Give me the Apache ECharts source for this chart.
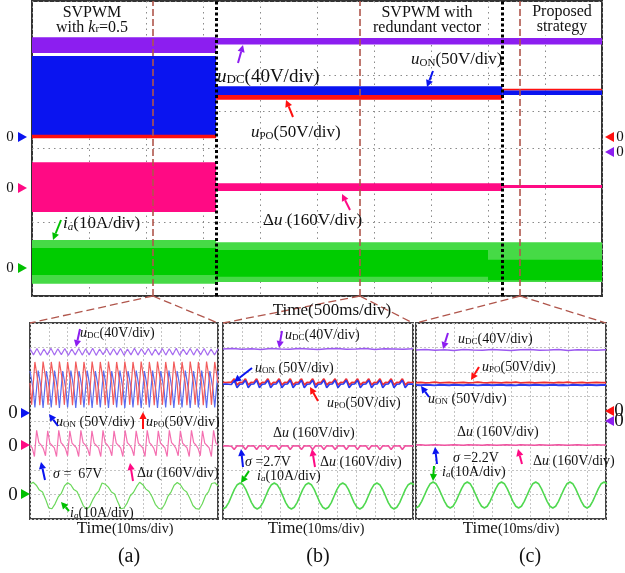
<!DOCTYPE html>
<html><head><meta charset="utf-8">
<script src="https://cdn.jsdelivr.net/npm/echarts@6/dist/echarts.min.js"></script>
<style>html,body{margin:0;padding:0;background:#fff}#c{width:625px;height:573px}</style>
</head><body><div id="c"></div>
<script>
// ---------- DATA (oscilloscope divisions: x 0..10, y 0..8) ----------
// Top panel envelopes: [t0, t1, low, high]
const topDC = [[0, 3.23, 6.59, 7.02], [3.23, 10, 6.82, 7.00]];
const topPO = [[0, 3.23, 4.28, 4.40], [3.23, 8.25, 5.32, 5.48], [8.25, 10, 5.57, 5.62]];
const topON = [[0, 3.23, 4.37, 6.51], [3.23, 8.25, 5.45, 5.69], [8.25, 10, 5.45, 5.57]];
const topDu = [[0, 3.23, 2.28, 3.63], [3.23, 8.25, 2.85, 3.06], [8.25, 10, 2.93, 3.01]];
const topIaOuter = [[0, 3.23, 0.33, 1.52], [3.23, 10, 0.38, 1.46]];
const topIaInner = [[0, 3.23, 0.57, 1.30], [3.23, 8.0, 0.52, 1.25], [8.0, 10, 0.43, 0.98]];
const zoomMarks = [2.12, 5.75, 8.56];
const switchMarks = [3.23, 8.25];

// Panel (a)
const aDC = [6.95,6.70,6.96,6.68,6.94,6.70,6.97,6.69,6.95,6.71,
 6.96,6.68,6.94,6.70,6.96,6.69,6.95,6.70,6.97,6.68,
 6.94,6.71,6.96,6.69,6.95,6.70,6.96,6.68,6.94,6.70,
 6.97,6.69,6.95,6.71,6.96,6.68,6.94,6.70,6.96,6.69,
 6.95,6.70,6.97,6.68,6.94,6.71,6.96,6.69,6.95,6.70,
 6.96,6.68,6.94,6.70,6.95];
const aON = [
 6.04,6.01,5.27,4.55,4.58, 6.06,6.02,5.25,4.53,4.57,
 6.04,6.01,5.27,4.55,4.58, 6.06,6.02,5.25,4.53,4.57,
 6.04,6.01,5.27,4.55,4.58, 6.06,6.02,5.25,4.53,4.57,
 6.04,6.01,5.27,4.55,4.58, 6.06,6.02,5.25,4.53,4.57,
 6.04,6.01,5.27,4.55,4.58, 6.06,6.02,5.25,4.53,4.57,
 6.04,6.01,5.27,4.55,4.58, 6.06,6.02,5.25,4.53,4.57,
 6.04,6.01,5.27,4.55,4.58, 6.06,6.02,5.25,4.53,4.57,
 6.04,6.01,5.27,4.55,4.58, 6.06,6.02,5.25,4.53,4.57,
 6.04,6.01,5.27,4.55,4.58, 6.06,6.02,5.25,4.53,4.57,
 6.04,6.01,5.27,4.55,4.58, 6.06,6.02,5.25,4.53,4.57,
 6.04,6.01,5.27,4.55,4.58, 6.06,6.02,5.25,4.53,4.57,
 6.04,6.01,5.27,4.55,4.58, 6.04];
const aPO = [
 5.55,4.66,4.63,6.41,6.38, 5.53,4.64,4.67,6.43,6.39,
 5.55,4.66,4.63,6.41,6.38, 5.53,4.64,4.67,6.43,6.39,
 5.55,4.66,4.63,6.41,6.38, 5.53,4.64,4.67,6.43,6.39,
 5.55,4.66,4.63,6.41,6.38, 5.53,4.64,4.67,6.43,6.39,
 5.55,4.66,4.63,6.41,6.38, 5.53,4.64,4.67,6.43,6.39,
 5.55,4.66,4.63,6.41,6.38, 5.53,4.64,4.67,6.43,6.39,
 5.55,4.66,4.63,6.41,6.38, 5.53,4.64,4.67,6.43,6.39,
 5.55,4.66,4.63,6.41,6.38, 5.53,4.64,4.67,6.43,6.39,
 5.55,4.66,4.63,6.41,6.38, 5.53,4.64,4.67,6.43,6.39,
 5.55,4.66,4.63,6.41,6.38, 5.53,4.64,4.67,6.43,6.39,
 5.55,4.66,4.63,6.41,6.38, 5.53,4.64,4.67,6.43,6.39,
 5.55,4.66,4.63,6.41,6.38, 5.55];
const aDu = [
 3.00,2.90,2.55,3.62,3.12, 3.02,2.88,2.58,3.60,3.10,
 3.00,2.90,2.55,3.62,3.12, 3.02,2.88,2.58,3.60,3.10,
 3.00,2.90,2.55,3.62,3.12, 3.02,2.88,2.58,3.60,3.10,
 3.00,2.90,2.55,3.62,3.12, 3.02,2.88,2.58,3.60,3.10,
 3.00,2.90,2.55,3.62,3.12, 3.02,2.88,2.58,3.60,3.10,
 3.00,2.90,2.55,3.62,3.12, 3.02,2.88,2.58,3.60,3.10,
 3.00,2.90,2.55,3.62,3.12, 3.02,2.88,2.58,3.60,3.10,
 3.00,2.90,2.55,3.62,3.12, 3.02,2.88,2.58,3.60,3.10,
 3.00,2.90,2.55,3.62,3.12, 3.00];
const aIa = [1.42,1.50,1.38,1.18,1.10,0.80,0.45,0.42,0.62,0.90,
 1.05,1.35,1.48,1.40,1.20,1.12,0.85,0.55,0.40,0.50,
 0.78,1.00,1.15,1.47,1.42,1.30,1.10,1.02,0.70,0.42,
 0.45,0.65,0.95,1.08,1.32,1.50,1.40,1.22,1.12,0.90,
 0.60,0.44,0.40,0.60,0.92,1.10,1.38,1.49,1.40,1.20,
 1.10,0.85,0.55,0.42,0.40,0.62,0.95,1.12,1.45,1.48,1.35];

// Panel (b)
const bDC = [6.94,6.96,6.93,6.95,6.92,6.96,6.94,6.93,6.96,6.94,6.92,6.95,6.96,6.93,6.94,6.96,6.92,6.95,6.94,6.93,6.95];
const bPO = [5.58,5.57,5.58,5.59,
 5.72,5.47,5.58,5.57, 5.72,5.47,5.58,5.57, 5.72,5.47,5.58,5.57, 5.72,5.47,5.58,5.57,
 5.72,5.47,5.58,5.57, 5.72,5.47,5.58,5.57, 5.72,5.47,5.58,5.57, 5.72,5.47,5.58,5.57,
 5.72,5.47,5.58,5.57, 5.72,5.47,5.58,5.57, 5.72,5.47,5.58,5.57, 5.72,5.47,5.58,5.57,
 5.72,5.47,5.58,5.57, 5.72,5.47,5.58,5.57, 5.72,5.47,5.58,5.57, 5.72,5.47,5.58,5.57, 5.58];
const bON = [5.50,5.51,5.50,5.49,
 5.66,5.36,5.50,5.51, 5.66,5.36,5.50,5.51, 5.66,5.36,5.50,5.51, 5.66,5.36,5.50,5.51,
 5.66,5.36,5.50,5.51, 5.66,5.36,5.50,5.51, 5.66,5.36,5.50,5.51, 5.66,5.36,5.50,5.51,
 5.66,5.36,5.50,5.51, 5.66,5.36,5.50,5.51, 5.66,5.36,5.50,5.51, 5.66,5.36,5.50,5.51,
 5.66,5.36,5.50,5.51, 5.66,5.36,5.50,5.51, 5.66,5.36,5.50,5.51, 5.66,5.36,5.50,5.51, 5.50];
const bDu = [2.98,2.99,2.98,2.97,
 2.84,2.99,2.98,2.99, 2.84,2.99,2.98,2.99, 2.84,2.99,2.98,2.99, 2.84,2.99,2.98,2.99,
 2.84,2.99,2.98,2.99, 2.84,2.99,2.98,2.99, 2.84,2.99,2.98,2.99, 2.84,2.99,2.98,2.99,
 2.84,2.99,2.98,2.99, 2.84,2.99,2.98,2.99, 2.84,2.99,2.98,2.99, 2.84,2.99,2.98,2.99,
 2.84,2.99,2.98,2.99, 2.84,2.99,2.98,2.99, 2.84,2.99,2.98,2.99, 2.84,2.99,2.98,2.99, 2.98];
const bIa = [0.41,0.48,0.67,0.94,1.21,1.40,1.47,1.40,1.21,0.94,0.67,0.48,
 0.41,0.48,0.67,0.94,1.21,1.40,1.47,1.40,1.21,0.94,0.67,0.48,
 0.41,0.48,0.67,0.94,1.21,1.40,1.47,1.40,1.21,0.94,0.67,0.48,
 0.41,0.48,0.67,0.94,1.21,1.40,1.47,1.40,1.21,0.94,0.67,0.48,
 0.41,0.48,0.67,0.94,1.21,1.40,1.47,1.40,1.21,0.94,0.67,0.48,
 0.41,0.48,0.67,0.94,1.21,1.40,1.47,1.40];

// Panel (c)
const cDC = [6.90,6.92,6.89,6.91,6.88,6.92,6.90,6.89,6.92,6.90,6.88,6.91,6.92,6.89,6.90,6.92,6.88,6.91,6.90,6.89,6.91];
const cPO = [5.57,5.58,5.56,5.57,5.59,5.56,5.57,5.58,5.56,5.57,5.58,5.56,5.57,5.59,5.57,5.56,5.58,5.57,5.56,5.58,
 5.57,5.59,5.56,5.57,5.58,5.56,5.57,5.58,5.57,5.56,5.58,5.57,5.59,5.56,5.57,5.58,5.56,5.57,5.58,5.57,5.57];
const cON = [5.47,5.46,5.48,5.47,5.45,5.48,5.47,5.46,5.48,5.47,5.46,5.48,5.47,5.45,5.47,5.48,5.46,5.47,5.48,5.46,
 5.47,5.45,5.48,5.47,5.46,5.48,5.47,5.46,5.47,5.48,5.46,5.47,5.45,5.48,5.47,5.46,5.48,5.47,5.46,5.47,5.47];
const cDu = [3.02,3.03,3.01,3.02,3.03,3.02,3.01,3.02,3.03,3.02,3.01,3.03,3.02,3.02,3.01,3.03,3.02,3.01,3.02,3.03,
 3.02,3.01,3.03,3.02,3.02,3.01,3.03,3.02,3.01,3.02,3.03,3.02,3.01,3.02,3.03,3.02,3.01,3.02,3.03,3.02,3.02];
const cIa = [0.45,0.52,0.72,0.98,1.24,1.44,1.51,1.44,1.24,0.98,0.72,0.52,
 0.45,0.52,0.72,0.98,1.24,1.44,1.51,1.44,1.24,0.98,0.72,0.52,
 0.45,0.52,0.72,0.98,1.24,1.44,1.51,1.44,1.24,0.98,0.72,0.52,
 0.45,0.52,0.72,0.98,1.24,1.44,1.51,1.44,1.24,0.98,0.72,0.52,
 0.45,0.52,0.72,0.98,1.24,1.44,1.51,1.44,1.24,0.98,0.72,0.52,
 0.45,0.52,0.72,0.98,1.24,1.44,1.51,1.44];

// ---------- CHART ----------
const FONT = "'Liberation Serif','Times New Roman',serif";
const chart = echarts.init(document.getElementById('c'), null, {renderer: 'canvas'});

function axes(i, gridColor, dash) {
  const common = {gridIndex: i, type: 'value', axisLine: {show: false}, axisTick: {show: false},
    axisLabel: {show: false}, splitLine: {show: true, lineStyle: {color: gridColor, type: dash, width: 1}}};
  return [Object.assign({min: 0, max: 10, interval: 1}, common), Object.assign({min: 0, max: 8, interval: 1}, common)];
}
const ax = [axes(0, '#8a8a8a', [1.5, 4]), axes(1, '#c4c4c4', [2, 2]), axes(2, '#c4c4c4', [2, 2]), axes(3, '#c4c4c4', [2, 2])];

function band(data, color, z) {
  return {type: 'custom', xAxisIndex: 0, yAxisIndex: 0, data: data, z: z, silent: true, animation: false,
    encode: {x: [0, 1], y: [2, 3]},
    renderItem: function (params, api) {
      const a = api.coord([api.value(0), api.value(3)]);
      const b = api.coord([api.value(1), api.value(2)]);
      return {type: 'rect', shape: {x: a[0], y: a[1], width: b[0] - a[0], height: b[1] - a[1]}, style: {fill: color}};
    }};
}
function trace(values, step, g, color, w) {
  return {type: 'line', xAxisIndex: g, yAxisIndex: g, data: values.map(function (v, i) { return [+(i * step).toFixed(4), v]; }),
    showSymbol: false, symbol: 'none', lineStyle: {color: color, width: w}, animation: false, silent: true, z: 3};
}

const series = [
  band(topDC, '#8c1ef0', 2),
  band(topPO, '#ff1010', 2),
  band(topON, '#0a14f0', 3),
  band(topDu, '#ff0a84', 2),
  band(topIaOuter, '#46da46', 2),
  band(topIaInner, '#00cc00', 3),
  {type: 'line', xAxisIndex: 0, yAxisIndex: 0, data: [], z: 10, silent: true, animation: false,
    markLine: {silent: true, symbol: 'none', label: {show: false}, animation: false,
      data: zoomMarks.map(function (x) { return {xAxis: x, lineStyle: {color: '#b0564c', type: [7, 3], width: 1.6}}; })
        .concat(switchMarks.map(function (x) { return {xAxis: x, lineStyle: {color: '#000', type: [3, 2.5], width: 3}}; }))}},
  trace(aDC, 10 / (aDC.length - 1), 1, '#a66cf0', 1.2),
  trace(aON, 10 / (aON.length - 1), 1, '#5a6cf0', 1.2),
  trace(aPO, 10 / (aPO.length - 1), 1, '#f25c5c', 1.2),
  trace(aDu, 10 / (aDu.length - 1), 1, '#f46fb0', 1.2),
  trace(aIa, 1 / 6, 1, '#6ad85a', 1.2),
  trace(bDC, 0.5, 2, '#9b59f0', 1.6),
  trace(bPO, 0.1475, 2, '#f03030', 1.8),
  trace(bON, 0.1475, 2, '#2a3cf0', 1.6),
  trace(bDu, 0.1475, 2, '#f0509f', 1.6),
  trace(bIa, 0.15, 2, '#50d850', 1.6),
  trace(cDC, 0.5, 3, '#9b59f0', 1.6),
  trace(cPO, 0.25, 3, '#f03030', 1.8),
  trace(cON, 0.25, 3, '#2a3cf0', 1.8),
  trace(cDu, 0.25, 3, '#f0509f', 1.6),
  trace(cIa, 0.15, 3, '#50d850', 1.6)
];

chart.setOption({
  animation: false,
  backgroundColor: '#fff',
  grid: [
    {left: 32, top: 1, width: 570, height: 295, show: true, borderColor: '#333', borderWidth: 2, backgroundColor: '#fff'},
    {left: 30, top: 323, width: 188, height: 196, show: true, borderColor: '#444', borderWidth: 2, backgroundColor: '#fff'},
    {left: 223, top: 323, width: 190, height: 196, show: true, borderColor: '#444', borderWidth: 2, backgroundColor: '#fff'},
    {left: 416, top: 323, width: 190, height: 196, show: true, borderColor: '#444', borderWidth: 2, backgroundColor: '#fff'}
  ],
  xAxis: ax.map(function (a) { return a[0]; }),
  yAxis: ax.map(function (a) { return a[1]; }),
  series: series
});

// ---------- ANNOTATIONS ----------
function rich(S) {
  const s = Math.round(S * 0.66);
  return {
    n: {fontSize: S, fontFamily: FONT},
    i: {fontSize: S, fontFamily: FONT, fontStyle: 'italic'},
    s: {fontSize: s, fontFamily: FONT, verticalAlign: 'bottom', lineHeight: s},
    si: {fontSize: s, fontFamily: FONT, fontStyle: 'italic', verticalAlign: 'bottom', lineHeight: s},
    t: {fontSize: S, fontFamily: FONT},
    m: {fontSize: Math.round(S * 0.8), fontFamily: FONT}
  };
}
function txt(x, y, text, S, align, extra) {
  const st = {text: text, rich: rich(S), font: S + 'px ' + FONT, fill: '#111',
    textAlign: align || 'left', align: align || 'left', textVerticalAlign: 'middle', verticalAlign: 'middle'};
  if (extra) Object.assign(st, extra);
  return {type: 'text', x: x, y: y, z: 100, style: st};
}
function arrow(x1, y1, x2, y2, color) {
  const dx = x2 - x1, dy = y2 - y1, L = Math.hypot(dx, dy), ux = dx / L, uy = dy / L;
  const hl = 7, hw = 3.6, bx = x2 - ux * hl, by = y2 - uy * hl;
  return [
    {type: 'line', z: 101, shape: {x1: x1, y1: y1, x2: bx, y2: by}, style: {stroke: color, lineWidth: 2}},
    {type: 'polygon', z: 101, shape: {points: [[x2, y2], [bx - uy * hw, by + ux * hw], [bx + uy * hw, by - ux * hw]]}, style: {fill: color}}
  ];
}
function tri(x, y, dir, color) {
  const pts = dir > 0 ? [[x, y - 5], [x + 9, y], [x, y + 5]] : [[x, y - 5], [x - 9, y], [x, y + 5]];
  return {type: 'polygon', z: 101, shape: {points: pts}, style: {fill: color}};
}

const P = '#8c1ef0', B = '#0a14f0', R = '#ff1010', K = '#ff0a84', G = '#00c000';
let g = [];
// top panel titles
g.push(txt(92, 20, '{n|SVPWM}\n{n|with }{i|k}{s|r}{n|=0.5}', 16, 'center', {backgroundColor: '#fff', padding: [1, 3], lineHeight: 15}));
g.push(txt(427, 20, '{n|SVPWM with}\n{n|redundant vector}', 16, 'center', {backgroundColor: '#fff', padding: [1, 3], lineHeight: 15}));
g.push(txt(562, 19, '{n|Proposed}\n{n|strategy}', 16, 'center', {backgroundColor: '#fff', padding: [1, 3], lineHeight: 15}));
// top panel labels
g.push(txt(217, 77, '{i|u}{s|DC}{n|(40V/div)}', 19));
g = g.concat(arrow(238, 63, 243, 45, P));
g.push(txt(251, 133, '{i|u}{s|PO}{n|(50V/div)}', 17));
g = g.concat(arrow(293, 117, 286, 100, R));
g.push(txt(411, 60, '{i|u}{s|ON}{n|(50V/div)}', 17));
g = g.concat(arrow(433, 71, 427, 87, B));
g.push(txt(263, 221, '{n|Δ}{i|u}{n| (160V/div)}', 17));
g = g.concat(arrow(350, 210, 342, 194, K));
g.push(txt(63, 224, '{i|i}{si|a}{n|(10A/div)}', 17));
g = g.concat(arrow(61, 220, 53, 240, G));
g.push(txt(332, 311, '{n|Time(500ms/div)}', 17, 'center'));
// top zero markers
g.push(txt(10, 137, '{n|0}', 15, 'center')); g.push(tri(18, 137, 1, B));
g.push(txt(10, 188, '{n|0}', 15, 'center')); g.push(tri(18, 188, 1, K));
g.push(txt(10, 268, '{n|0}', 15, 'center')); g.push(tri(18, 268, 1, G));
g.push(tri(614, 137, -1, R)); g.push(txt(620, 137, '{n|0}', 15, 'center'));
g.push(tri(614, 152, -1, P)); g.push(txt(620, 152, '{n|0}', 15, 'center'));

// panel (a)
g.push(txt(80, 333, '{i|u}{s|DC}{n|(40V/div)}', 14));
g = g.concat(arrow(80, 329, 76, 347, P));
g.push(txt(56, 422, '{i|u}{s|ON}{n| (50V/div)}', 14));
g = g.concat(arrow(58, 426, 49, 414, B));
g.push(txt(146, 422, '{i|u}{s|PO}{n|(50V/div)}', 14));
g = g.concat(arrow(143, 429, 143, 412, R));
g.push(txt(53, 474, '{i|σ}{n| =  67V}', 14));
g = g.concat(arrow(45, 480, 41, 462, B));
g.push(txt(137, 473, '{n|Δ}{i|u}{n| (160V/div)}', 14));
g = g.concat(arrow(133, 481, 130, 463, K));
g.push(txt(70, 513, '{i|i}{si|a}{n|(10A/div)}', 14));
g = g.concat(arrow(69, 511, 61, 502, G));
g.push(txt(13, 413, '{n|0}', 19, 'center')); g.push(tri(21, 413, 1, B));
g.push(txt(13, 446, '{n|0}', 19, 'center')); g.push(tri(21, 445, 1, K));
g.push(txt(13, 495, '{n|0}', 19, 'center')); g.push(tri(21, 494, 1, G));

// panel (b)
g.push(txt(285, 335, '{i|u}{s|DC}{n|(40V/div)}', 14));
g = g.concat(arrow(282, 331, 279, 348, P));
g.push(txt(255, 368, '{i|u}{s|ON}{n| (50V/div)}', 14));
g = g.concat(arrow(252, 368, 234, 382, B));
g.push(txt(327, 403, '{i|u}{s|PO}{n|(50V/div)}', 14));
g = g.concat(arrow(318, 401, 310, 387, R));
g.push(txt(273, 433, '{n|Δ}{i|u}{n| (160V/div)}', 14));
g.push(txt(245, 462, '{i|σ}{n| =2.7V}', 14));
g = g.concat(arrow(243, 467, 241, 449, B));
g.push(txt(320, 462, '{n|Δ}{i|u}{n| (160V/div)}', 14));
g = g.concat(arrow(315, 467, 312, 449, K));
g.push(txt(257, 476, '{i|i}{si|a}{n|(10A/div)}', 14));
g = g.concat(arrow(249, 471, 241, 483, G));

// panel (c)
g.push(txt(458, 339, '{i|u}{s|DC}{n|(40V/div)}', 14));
g = g.concat(arrow(448, 333, 443, 349, P));
g.push(txt(482, 367, '{i|u}{s|PO}{n|(50V/div)}', 14));
g = g.concat(arrow(479, 367, 471, 380, R));
g.push(txt(428, 399, '{i|u}{s|ON}{n| (50V/div)}', 14));
g = g.concat(arrow(429, 397, 421, 386, B));
g.push(txt(457, 432, '{n|Δ}{i|u}{n| (160V/div)}', 14));
g.push(txt(453, 458, '{i|σ}{n| =2.2V}', 14));
g = g.concat(arrow(437, 464, 435, 447, B));
g.push(txt(533, 461, '{n|Δ}{i|u}{n| (160V/div)}', 14));
g = g.concat(arrow(522, 464, 518, 449, K));
g.push(txt(442, 472, '{i|i}{si|a}{n|(10A/div)}', 14));
g = g.concat(arrow(434, 466, 433, 481, G));
g.push(tri(614, 411, -1, R)); g.push(txt(619, 411, '{n|0}', 19, 'center'));
g.push(tri(614, 421, -1, P)); g.push(txt(619, 421, '{n|0}', 19, 'center'));

// time labels and captions
[125, 316, 511].forEach(function (cx) { g.push(txt(cx, 529, '{t|Time}{m|(10ms/div)}', 17, 'center')); });
g.push(txt(129, 557, '{n|(a)}', 20, 'center'));
g.push(txt(318, 557, '{n|(b)}', 20, 'center'));
g.push(txt(530, 557, '{n|(c)}', 20, 'center'));

// zoom connector lines computed from the axes
zoomMarks.forEach(function (xm, k) {
  const top = chart.convertToPixel({gridIndex: 0}, [xm, 0]);
  const l = chart.convertToPixel({gridIndex: k + 1}, [0, 8]);
  const r = chart.convertToPixel({gridIndex: k + 1}, [10, 8]);
  [l, r].forEach(function (p) {
    g.push({type: 'line', z: 50, shape: {x1: top[0], y1: top[1], x2: p[0], y2: p[1]},
      style: {stroke: '#b0564c', lineWidth: 1.3, lineDash: [8, 4]}});
  });
});

chart.setOption({graphic: {elements: g}});
</script></body></html>
